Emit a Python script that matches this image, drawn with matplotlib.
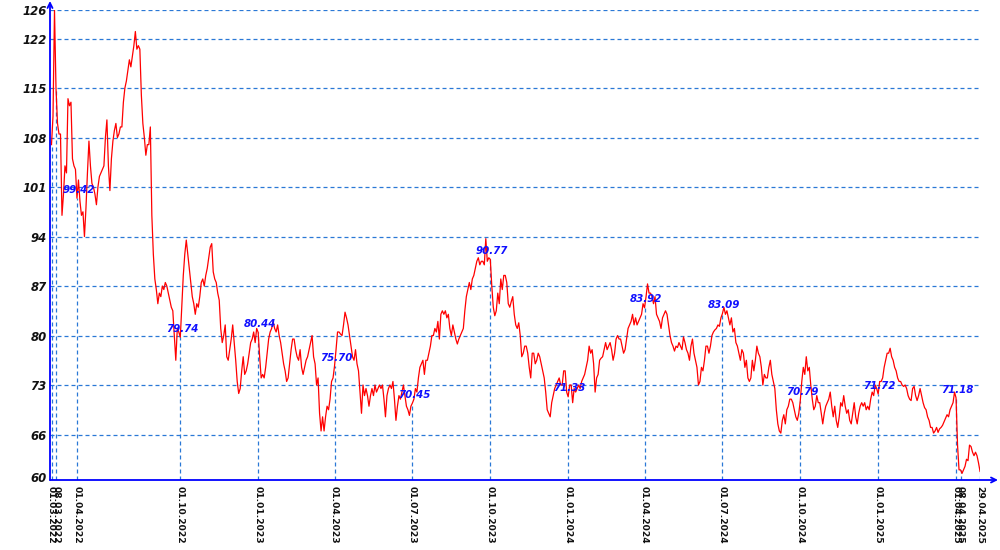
import matplotlib
matplotlib.use("Agg")
import matplotlib.pyplot as plt
import numpy as np

# ---------------- data ----------------
tick_dates = ["01.03.2022", "08.03.2022", "01.04.2022", "01.10.2022", "01.01.2023",
              "01.04.2023", "01.07.2023", "01.10.2023", "01.01.2024", "01.04.2024",
              "01.07.2024", "01.10.2024", "01.01.2025", "01.04.2025", "08.04.2025",
              "29.04.2025"]
show_value = [False, False, True, True, True, True, True, True, True, True,
              True, True, True, True, False, False]

seg_2022_03_01 = [107, 111, 126]
seg_2022_03_08 = [115, 110, 108.5, 108.5, 97, 100, 104, 103, 113.5, 112.5, 113, 105, 104, 103.5]
seg_2022_04 = [99.42, 102, 99, 97, 97.5, 94, 98, 103, 107.5, 104,
               101.5, 101, 100, 98.5, 101, 102.5, 103, 103.5, 104, 108,
               110.5, 104, 100.5, 105, 107.5, 109, 110, 108, 108.5, 109.5,
               109.5, 113, 115, 116, 117.5, 119, 118, 119.5, 121, 123,
               120.5, 121, 120.5, 114, 110, 108, 105.5, 107, 107, 109.5,
               97, 91.5, 88, 86.5, 84.5, 86, 85.5, 87, 86.5, 87.5,
               87, 86, 85, 84, 83.5, 80, 76.5, 81, 80.5]
seg_2022_10 = [79.74, 84, 88.5, 91.5, 93.5, 91.5, 89.5, 87.5, 85.5, 84.5,
               83, 84.5, 84, 85.5, 87.5, 88, 87, 88.5, 89.5, 91,
               92.5, 93, 89, 88, 87.5, 86, 85, 81, 79, 80,
               81.5, 77, 76.5, 78, 79.5, 81.5, 79, 76.5, 73.5, 71.8,
               72.5, 75, 77, 74.5, 75, 76, 77.5, 79, 79.5, 80.5, 79, 81]
seg_2023_01 = [80.44, 77, 74, 74.5, 74, 75.5, 77.5, 79.5, 80.5, 81,
               82, 81, 80.5, 81.5, 80, 79, 77.5, 76, 75, 73.5,
               74, 76, 78, 79.5, 79.5, 78, 77, 76.5, 78, 75.5,
               74.5, 75.5, 76.5, 77, 78, 79, 80, 77, 76, 73,
               74, 69, 66.5, 68.5, 66.5, 68.5, 70, 69.5, 71, 73.5, 74]
seg_2023_04 = [75.70, 78, 80.5, 80.5, 80.2, 80, 81.5, 83.3, 82.5, 81.5,
               80, 78.5, 77, 76.5, 78, 76, 75, 72, 69, 73,
               71.5, 72.5, 71.5, 70, 71.5, 72.5, 71.5, 73, 72, 72.5,
               73, 72.5, 73, 71, 68.5, 71.5, 72.5, 73, 72.5, 73.5,
               71, 68, 70, 71.5, 71, 72, 73, 71.5, 70, 69.5, 68.7, 70]
seg_2023_07 = [70.45, 71, 72.5, 72, 74, 75.5, 76, 76.5, 74.5, 76.5,
               76.5, 77.5, 78.5, 80, 80, 81, 80.5, 82, 79.5, 83,
               83.5, 83, 83.5, 82.5, 83, 81, 80, 81.5, 80.5, 79.5,
               78.8, 79.5, 80, 80.5, 81, 83.5, 85.5, 86.5, 87.5, 86.5,
               88, 88.5, 89.5, 90.5, 91, 90, 90.5, 90.5, 90, 93.7, 90.5, 91]
seg_2023_10 = [90.77, 87, 84, 82.8, 83.5, 86, 84.5, 88, 86.5, 88.5,
               88.5, 87.5, 84.5, 84, 84.8, 85.5, 83, 81.5, 81, 81.8,
               80, 77, 77.5, 78.5, 78.5, 77.5, 75.5, 74, 77.5, 77.5,
               76, 76.5, 77.5, 77, 76, 75, 74, 72, 69.5, 69,
               68.5, 70.5, 71.5, 72.5, 73, 73.5, 74, 73, 73, 75, 75, 72]
seg_2024_01 = [71.33, 73, 73, 70.5, 72.5, 72, 72.5, 73, 72.5, 73.5,
               74, 74.5, 75.5, 76.5, 78.5, 77.5, 78, 76, 72, 74,
               74.5, 76.5, 76.8, 77, 78, 79, 78, 78.5, 79, 78,
               76.5, 77.5, 79.5, 80, 79.5, 79.5, 78.5, 77.5, 78, 79.5,
               81, 81.5, 82, 83, 81.5, 82.5, 81.5, 82, 82.5, 83, 84.5]
seg_2024_04 = [83.92, 85.5, 87.3, 86, 86, 85.5, 84.5, 85.5, 83, 82.5,
               82, 81, 82.5, 83, 83.5, 83, 81.5, 80, 79, 78.5,
               77.8, 78.5, 78.3, 79, 78.5, 78, 79.8, 79, 78, 77.5,
               76.5, 78.5, 79.5, 77.5, 76.5, 75.5, 73, 73.5, 75.5, 75,
               76.5, 78.5, 78.5, 77.5, 78.5, 80, 80.5, 80.8, 81, 81.5, 81.3, 82.5]
seg_2024_07 = [83.09, 84, 83, 83.5, 82.5, 81.5, 82.5, 80.5, 81, 79,
               78.5, 77.5, 76.5, 78, 77.5, 75.5, 76.5, 74, 73.5, 74,
               76.5, 75, 76.5, 78.5, 77.5, 77, 75.5, 73, 74.5, 74,
               74, 75.5, 76.5, 74.5, 73.5, 72.5, 69.5, 67.5, 66.5, 66.2,
               68, 68.8, 67.5, 69.5, 70, 71, 71, 70.5, 69.5, 68.5, 68, 69]
seg_2024_10 = [70.79, 73.5, 75.5, 74.5, 77, 75, 75.5, 73, 71, 69.5,
               70, 71.5, 70.5, 70.5, 69, 67.5, 69, 70, 70.5, 71,
               72, 70, 68.5, 70, 68, 67, 68.5, 70.5, 70, 71.5,
               70, 69, 69.5, 68, 67.5, 69, 70.5, 68.5, 67.5, 69,
               70, 70.5, 70, 70.5, 69.5, 70, 69.5, 71, 72, 71.5, 73, 72.5]
seg_2025_01 = [71.72, 73.5, 73.5, 74, 75.5, 76.5, 77.5, 77.5, 78.2, 77,
               76.5, 75.5, 75, 74, 73.5, 73.5, 73, 72.8, 73, 72.5,
               71.5, 71, 70.8, 72.5, 72.8, 71.5, 70.8, 71.5, 72.5, 71.5,
               70.5, 69.8, 69.5, 68.5, 68, 67, 67, 66.2, 66.5, 67,
               66.3, 66.8, 67, 67.3, 67.8, 68.3, 68.8, 68.5, 69.5, 70, 70.5, 72]
seg_2025_04_01 = [71.18, 64.5, 61]
seg_2025_04_08 = [61, 60.5, 61, 61.5, 62.5, 62.3, 64.5, 64.3, 63.5, 63, 63.5, 63, 62]
seg_2025_04_29 = [60.8]

segments = [seg_2022_03_01, seg_2022_03_08, seg_2022_04, seg_2022_10, seg_2023_01,
            seg_2023_04, seg_2023_07, seg_2023_10, seg_2024_01, seg_2024_04,
            seg_2024_07, seg_2024_10, seg_2025_01, seg_2025_04_01, seg_2025_04_08,
            seg_2025_04_29]

y_ticks = [60, 66, 73, 80, 87, 94, 101, 108, 115, 122, 126]

# ---------------- build ----------------
series = np.concatenate([np.asarray(s, float) for s in segments])
n = len(series)
x = np.arange(n)
tick_idx = np.cumsum([0] + [len(s) for s in segments[:-1]])
tick_vals = series[tick_idx]

W, H = 1000, 550
fig = plt.figure(figsize=(W / 100, H / 100), dpi=100)
ax_left, ax_right, ax_bottom, ax_top = 50, 980, 480, 10.3
ax = fig.add_axes([ax_left / W, (H - ax_bottom) / H,
                   (ax_right - ax_left) / W, (ax_bottom - ax_top) / H])

ymax = 126
ymin = ymax - (ax_bottom - ax_top) / 7.07
ppi = (ax_right - 51.5) / (n - 1)
ax.set_xlim(-(51.5 - ax_left) / ppi, n - 1)
ax.set_ylim(ymin, ymax)

grid_c = "#2a78d6"
dash = (0, (3.2, 2.4))

for yt in y_ticks:
    if yt == 60:
        continue
    ax.axhline(yt, color=grid_c, lw=0.9, ls=dash, zorder=1)

ax.vlines(tick_idx, ymin, tick_vals, colors=grid_c, lw=0.9, linestyles=dash, zorder=1)

ax.plot(x, series, color="#ff0000", lw=0.9, zorder=3)

for i, v, sv in zip(tick_idx, tick_vals, show_value):
    if sv:
        ax.annotate(f"{v:.2f}", (i, v), xytext=(1.2, 6.0), textcoords="offset points",
                    ha="center", va="center", color="#1010ff", fontsize=7.4,
                    fontweight="bold", style="italic", zorder=4)

for s in ax.spines.values():
    s.set_visible(False)

ax.set_yticks(y_ticks)
ax.set_yticklabels([str(t) for t in y_ticks], fontsize=8.4, fontweight="bold",
                   style="italic", color="#111111")
ax.tick_params(axis="y", length=0, pad=2.5)
ax.set_xticks(tick_idx)
ax.set_xticklabels(tick_dates, rotation=-90, fontsize=6.6, fontweight="bold",
                   color="#111111", va="top", ha="center")
ax.tick_params(axis="x", length=0, pad=4.5)

# axes with arrows
ax.annotate("", xy=(998, H - ax_bottom), xytext=(ax_left, H - ax_bottom),
            xycoords="figure pixels", textcoords="figure pixels",
            arrowprops=dict(arrowstyle="->", color="#0000ff", lw=1.3,
                            shrinkA=0, shrinkB=0, mutation_scale=9))
ax.annotate("", xy=(ax_left, H - 1), xytext=(ax_left, H - ax_bottom),
            xycoords="figure pixels", textcoords="figure pixels",
            arrowprops=dict(arrowstyle="->", color="#0000ff", lw=1.3,
                            shrinkA=0, shrinkB=0, mutation_scale=9))

fig.savefig("out.png", dpi=100, facecolor="white")
